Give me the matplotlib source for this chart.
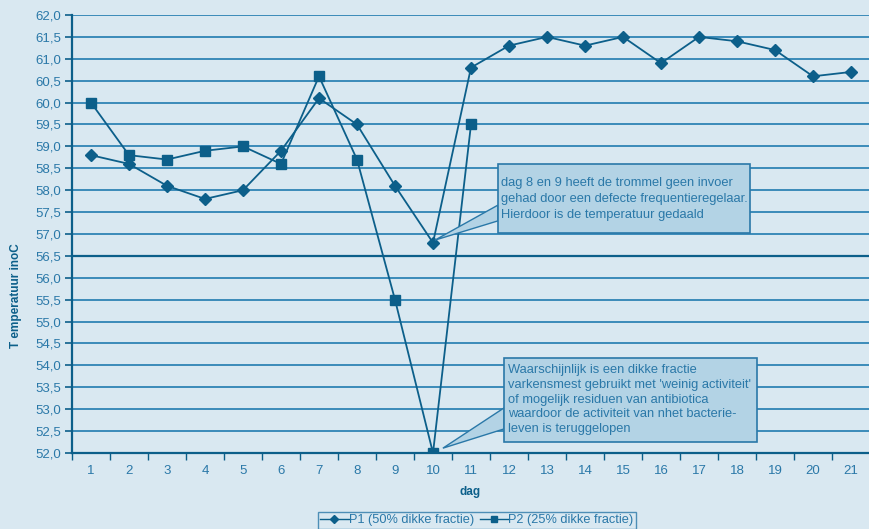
import matplotlib
matplotlib.use("Agg")
import matplotlib.pyplot as plt
from matplotlib.patches import Rectangle, Polygon
from matplotlib.lines import Line2D
import numpy as np

days = list(range(1, 22))
p1 = [58.8, 58.6, 58.1, 57.8, 58.0, 58.9, 60.1, 59.5, 58.1, 56.8, 60.8,
      61.3, 61.5, 61.3, 61.5, 60.9, 61.5, 61.4, 61.2, 60.6, 60.7]
p2 = [60.0, 58.8, 58.7, 58.9, 59.0, 58.6, 60.6, 58.7, 55.5, 52.0, 59.5]
y_ticks = np.arange(52.0, 62.01, 0.5)
y_labels = [f"{v:.1f}".replace(".", ",") for v in y_ticks]
series_names = ["P1 (50% dikke fractie)", "P2 (25% dikke fractie)"]

note1 = ("dag 8 en 9 heeft de trommel geen invoer\n"
         "gehad door een defecte frequentieregelaar.\n"
         "Hierdoor is de temperatuur gedaald")
note2 = ("Waarschijnlijk is een dikke fractie\n"
         "varkensmest gebruikt met 'weinig activiteit'\n"
         "of mogelijk residuen van antibiotica\n"
         "waardoor de activiteit van nhet bacterie-\n"
         "leven is teruggelopen")

BG = "#d9e8f1"
GRID = "#2f84b5"
DARK = "#0c5f8a"
TXT = "#2a78a8"
BOX = "#b3d3e5"

plt.rcParams["font.family"] = ["Liberation Sans", "DejaVu Sans"]

fig = plt.figure(figsize=(8.7, 5.29), dpi=100, facecolor=BG)
ax = fig.add_axes([72 / 870, 76 / 529, 798 / 870, 438 / 529])
ax.set_facecolor(BG)

ax.set_xlim(0.5, 21.5)
ax.set_ylim(52.0, 62.0)

# horizontal grid lines, the 56,5 line a bit heavier
for v in y_ticks:
    if abs(v - 56.5) < 1e-6:
        ax.axhline(v, color=DARK, lw=1.6, zorder=1)
    else:
        ax.axhline(v, color=GRID, lw=1.3, zorder=1)

ax.plot(days, p1, color=DARK, lw=1.3, marker="D", ms=6.5, zorder=3)
ax.plot(days[:len(p2)], p2, color=DARK, lw=1.3, marker="s", ms=7, zorder=3)

for s in ["top", "right"]:
    ax.spines[s].set_visible(False)
for s in ["left", "bottom"]:
    ax.spines[s].set_color(DARK)
    ax.spines[s].set_linewidth(1.6)

ax.set_yticks(y_ticks)
ax.set_yticklabels(y_labels)
ax.tick_params(axis="y", colors=DARK, labelcolor=TXT, labelsize=9.5,
               length=5, width=1.2, pad=3)
ax.set_xticks(days)
ax.set_xticklabels([str(d) for d in days])
ax.set_xticks(np.arange(0.5, 21.6, 1.0), minor=True)
ax.tick_params(axis="x", which="major", length=0, labelcolor=TXT,
               labelsize=9.5, pad=9)
ax.tick_params(axis="x", which="minor", length=5, width=1.0, colors=DARK)

fig.text(470 / 870, 1 - 492 / 529, "dag", color=DARK, fontsize=8.5,
         fontweight="bold", ha="center", va="center")
fig.text(16 / 870, 1 - 296 / 529, "T emperatuur inoC", color=DARK,
         fontsize=8.5, fontweight="bold", rotation=90, ha="center", va="center")


def callout(x0, x1, y0, y1, base_lo, base_hi, tip, text, tx, ty, spacing):
    wedge = Polygon([(x0, base_lo), (x0, base_hi), tip], closed=True,
                    facecolor=BOX, edgecolor=TXT, lw=1.0, zorder=4)
    ax.add_patch(wedge)
    rect = Rectangle((x0, y0), x1 - x0, y1 - y0, facecolor=BOX,
                     edgecolor=TXT, lw=1.2, zorder=5)
    ax.add_patch(rect)
    ax.text(tx, ty, text, color=TXT, fontsize=9.3, ha="left", va="center",
            linespacing=spacing, zorder=6)


callout(11.71, 18.34, 57.02, 58.6, 57.30, 57.66,
        (days[9] + 0.05, p1[9] + 0.06), note1, 11.79, 57.80, 1.43)
callout(11.87, 18.53, 52.25, 54.17, 52.55, 53.03,
        (days[9] + 0.26, p2[9] + 0.11), note2, 11.97, 53.22, 1.30)

h1 = Line2D([], [], color=DARK, lw=1.0, marker="D", ms=4)
h2 = Line2D([], [], color=DARK, lw=1.0, marker="s", ms=5)
leg = fig.legend([h1, h2], series_names,
                 loc="lower center", bbox_to_anchor=(477 / 870, -0.012),
                 ncol=2, frameon=True, fontsize=9.2, handlelength=2.2,
                 handletextpad=0.0, columnspacing=0.5, borderpad=0.2)
leg.get_frame().set_facecolor(BG)
leg.get_frame().set_edgecolor(TXT)
leg.get_frame().set_linewidth(1.0)
leg.get_frame().set_boxstyle("square", pad=0)
for t in leg.get_texts():
    t.set_color(TXT)

fig.savefig("out.png", dpi=100, facecolor=BG)
